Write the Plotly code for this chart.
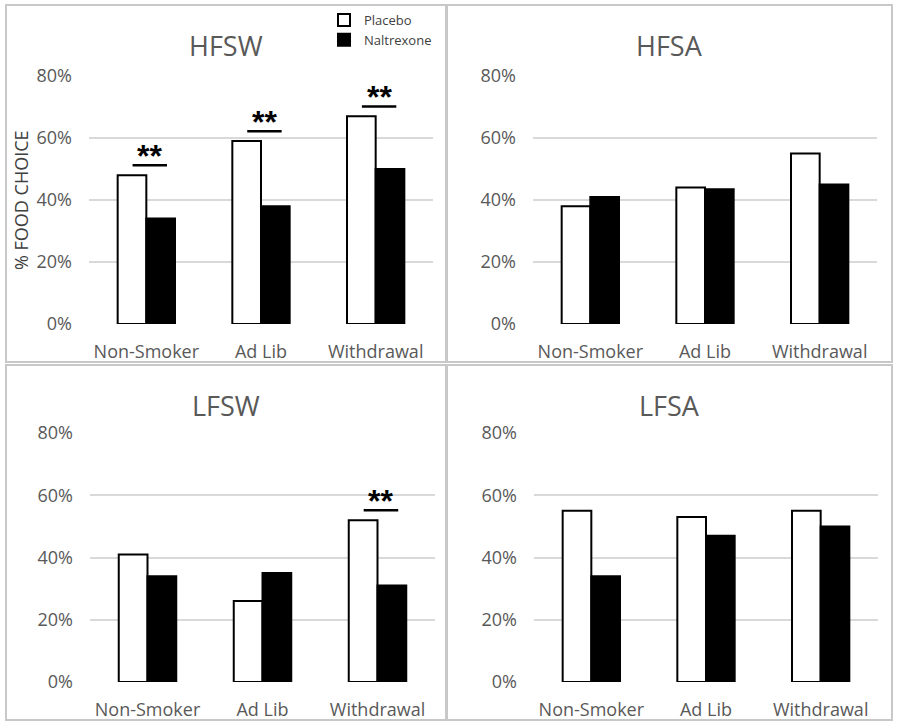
import plotly.graph_objects as go

W, H = 898, 728

categories = ["Non-Smoker", "Ad Lib", "Withdrawal"]
panel_titles = ["HFSW", "HFSA", "LFSW", "LFSA"]
placebo = {
    "HFSW": [0.48, 0.59, 0.67],
    "HFSA": [0.38, 0.44, 0.55],
    "LFSW": [0.41, 0.26, 0.52],
    "LFSA": [0.55, 0.53, 0.55],
}
naltrexone = {
    "HFSW": [0.34, 0.38, 0.50],
    "HFSA": [0.41, 0.435, 0.45],
    "LFSW": [0.34, 0.35, 0.31],
    "LFSA": [0.34, 0.47, 0.50],
}
significant = {
    "HFSW": [True, True, True],
    "HFSA": [False, False, False],
    "LFSW": [False, False, True],
    "LFSA": [False, False, False],
}
y_ticks = [0, 0.2, 0.4, 0.6, 0.8]
y_ticklabels = ["0%", "20%", "40%", "60%", "80%"]
series_names = ["Placebo", "Naltrexone"]
y_title = "% FOOD CHOICE"

FONT = "Open Sans"
TXT = "#595959"
GRID = "#d9d9d9"

def px_x(p):
    return p / W

def px_y(p):
    return 1 - p / H

panels = {
    "HFSW": dict(box=(6, 446, 5, 362), px=(89, 433), py=(76, 324), ax=""),
    "HFSA": dict(box=(447, 892, 5, 362), px=(533, 877), py=(76, 324), ax="2"),
    "LFSW": dict(box=(6, 446, 365, 720), px=(90, 435), py=(433, 682), ax="3"),
    "LFSA": dict(box=(447, 892, 365, 720), px=(534, 878), py=(433, 682), ax="4"),
}

fig = go.Figure()
shapes = []
annotations = []

for i, name in enumerate(panel_titles):
    p = panels[name]
    ax = p["ax"]
    fig.add_trace(go.Bar(
        x=categories, y=placebo[name], name=series_names[0],
        marker=dict(color="white", line=dict(color="black", width=2)),
        xaxis="x" + ax, yaxis="y" + ax, showlegend=(i == 0), legendgroup="p",
    ))
    fig.add_trace(go.Bar(
        x=categories, y=naltrexone[name], name=series_names[1],
        marker=dict(color="black", line=dict(color="black", width=2)),
        xaxis="x" + ax, yaxis="y" + ax, showlegend=(i == 0), legendgroup="n",
    ))
    xa = dict(
        domain=[px_x(p["px"][0]), px_x(p["px"][1])],
        anchor="y" + ax, showgrid=False, showline=False, zeroline=False,
        ticks="", tickfont=dict(family=FONT, size=18, color=TXT),
        ticklabelstandoff=15, fixedrange=True, automargin=False,
    )
    ya = dict(
        domain=[px_y(p["py"][1]), px_y(p["py"][0])],
        anchor="x" + ax, range=[0, 0.8], tickvals=y_ticks, ticktext=y_ticklabels,
        showgrid=True, gridcolor=GRID, gridwidth=1.5, zeroline=False,
        showline=False, ticks="", tickfont=dict(family=FONT, size=18, color=TXT),
        ticklabelstandoff=16, fixedrange=True, automargin=False,
    )
    fig.update_layout(**{"xaxis" + ax: xa, "yaxis" + ax: ya})

    x0, x1, y0, y1 = p["box"]
    shapes.append(dict(type="rect", xref="paper", yref="paper",
                       x0=px_x(x0), x1=px_x(x1), y0=px_y(y1), y1=px_y(y0),
                       line=dict(color="#c8c8c8", width=2), layer="below"))
    annotations.append(dict(
        text=name, xref="paper", yref="paper",
        x=px_x((x0 + x1) / 2), y=px_y(y0 + 40), showarrow=False,
        xanchor="center", yanchor="middle",
        font=dict(family=FONT, size=27, color=TXT),
    ))
    xr = "x" + ax
    yr = "y" + ax
    for j, sig in enumerate(significant[name]):
        if not sig:
            continue
        ly = placebo[name][j] + 0.032
        shapes.append(dict(type="line", xref=xr, yref=yr,
                           x0=j - 0.12, x1=j + 0.18, y0=ly, y1=ly,
                           line=dict(color="black", width=2.5)))
        annotations.append(dict(
            text="<b>**</b>", xref=xr, yref=yr, x=j + 0.03, y=ly,
            showarrow=False, xanchor="center", yanchor="bottom", yshift=-11,
            font=dict(family="Liberation Sans", size=32, color="black"),
        ))

annotations.append(dict(
    text=y_title, xref="paper", yref="paper", x=px_x(21), y=px_y(200),
    showarrow=False, textangle=-90, xanchor="center", yanchor="middle",
    font=dict(family=FONT, size=18, color="#404040"),
))

fig.update_layout(
    width=W, height=H,
    margin=dict(l=0, r=0, t=0, b=0, pad=0, autoexpand=False),
    paper_bgcolor="white", plot_bgcolor="white",
    barmode="group", bargap=0.5, bargroupgap=0,
    shapes=shapes, annotations=annotations,
    legend=dict(x=px_x(324), y=px_y(5), xanchor="left", yanchor="top",
                font=dict(family=FONT, size=13, color="#404040"),
                bgcolor="rgba(0,0,0,0)", itemwidth=30, traceorder="normal"),
    font=dict(family=FONT, color=TXT),
)

fig.write_html("out.html", config={"displayModeBar": False},
               post_script="document.body.style.margin='0';")
